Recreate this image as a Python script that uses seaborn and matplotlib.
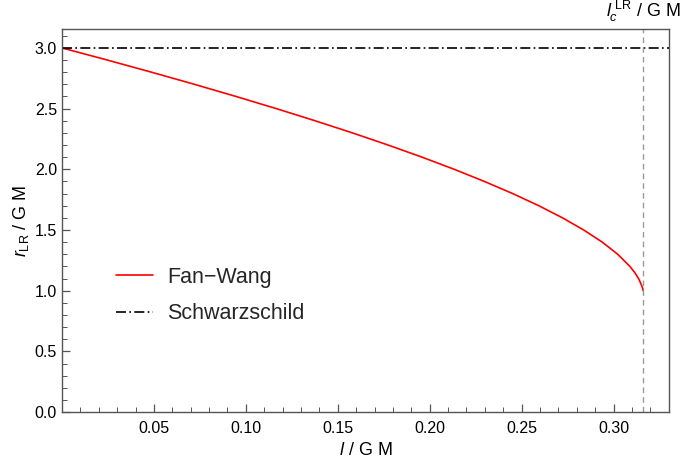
import numpy as np
import pandas as pd
import matplotlib
matplotlib.use("Agg")
import matplotlib.pyplot as plt
import matplotlib.ticker as mticker
import seaborn as sns

# ── Data ───────────────────────────────────────────────────────────────────────
l_vals = [0.0, 0.0247, 0.0487, 0.0721, 0.0947, 0.1166, 0.1377, 0.1580, 0.1774,
          0.1959, 0.2134, 0.2298, 0.2452, 0.2594, 0.2723, 0.2838, 0.2939,
          0.3023, 0.3089, 0.3115, 0.3136, 0.3151, 0.3158, 0.3161]
r_vals = [3.0, 2.9, 2.8, 2.7, 2.6, 2.5, 2.4, 2.3, 2.2, 2.1, 2.0, 1.9, 1.8, 1.7,
          1.6, 1.5, 1.4, 1.3, 1.2, 1.15, 1.1, 1.05, 1.02, 1.0]
r_schw = 3.0
l_crit = 0.3161

x_ticks = [0.05, 0.10, 0.15, 0.20, 0.25, 0.30]
y_ticks = [0.0, 0.5, 1.0, 1.5, 2.0, 2.5, 3.0]

FRAME = "#555555"

sns.set_theme(style="ticks")
plt.rcParams["font.family"] = ["Liberation Sans", "DejaVu Sans"]
plt.rcParams["mathtext.fontset"] = "custom"
plt.rcParams["mathtext.rm"] = "Liberation Sans"
plt.rcParams["mathtext.it"] = "Liberation Sans:italic"

df = pd.DataFrame({"l": l_vals, "r": r_vals})

fig = plt.figure(figsize=(6.81, 4.58), dpi=100)
ax = fig.add_axes([0.091, 0.100, 0.891, 0.837])

sns.lineplot(data=df, x="l", y="r", ax=ax, color="#ff0000", lw=1.2,
             sort=False, estimator=None, label="Fan\u2212Wang")
ax.axhline(r_schw, color="black", lw=1.2, ls=(0, (6, 2, 1, 2)),
           label="Schwarzschild")
ax.axvline(l_crit, color="#999999", lw=1.0, ls=(0, (4, 3)))

ax.set_xlim(0, 0.33)
ax.set_ylim(0, 3.157)
ax.set_xticks(x_ticks)
ax.set_xticklabels([f"{t:.2f}" for t in x_ticks])
ax.set_yticks(y_ticks)
ax.set_yticklabels([f"{t:.1f}" for t in y_ticks])
ax.xaxis.set_minor_locator(mticker.MultipleLocator(0.01))
ax.yaxis.set_minor_locator(mticker.MultipleLocator(0.1))
ax.tick_params(which="both", direction="in", colors=FRAME, labelcolor="black",
               labelsize=11.5, top=False, right=False)
ax.tick_params(which="major", length=6, width=0.9)
ax.tick_params(which="minor", length=3.5, width=0.7)
ax.tick_params(axis="x", pad=6)
for s in ax.spines.values():
    s.set_visible(True)
    s.set_color(FRAME)
    s.set_linewidth(1.0)

ax.set_xlabel(r"$\mathit{l}$ / G M", fontsize=13, color="black", labelpad=5)
ax.set_ylabel(r"$\mathit{r}_{\mathrm{LR}}$ / G M", fontsize=13,
              color="black", labelpad=3)

ax.text(l_crit, 1.012, r"$\mathit{l}_{\mathit{c}}^{\ \mathrm{LR}}$ / G M",
        transform=ax.get_xaxis_transform(), ha="center", va="bottom",
        fontsize=13, color="black")

leg = ax.legend(loc="upper left", bbox_to_anchor=(0.170, 0.417),
                bbox_transform=fig.transFigure, frameon=False,
                borderaxespad=0, borderpad=0,
                fontsize=15.5, handlelength=1.75, handletextpad=0.65,
                labelspacing=0.7)

fig.savefig("out.png", dpi=100)
